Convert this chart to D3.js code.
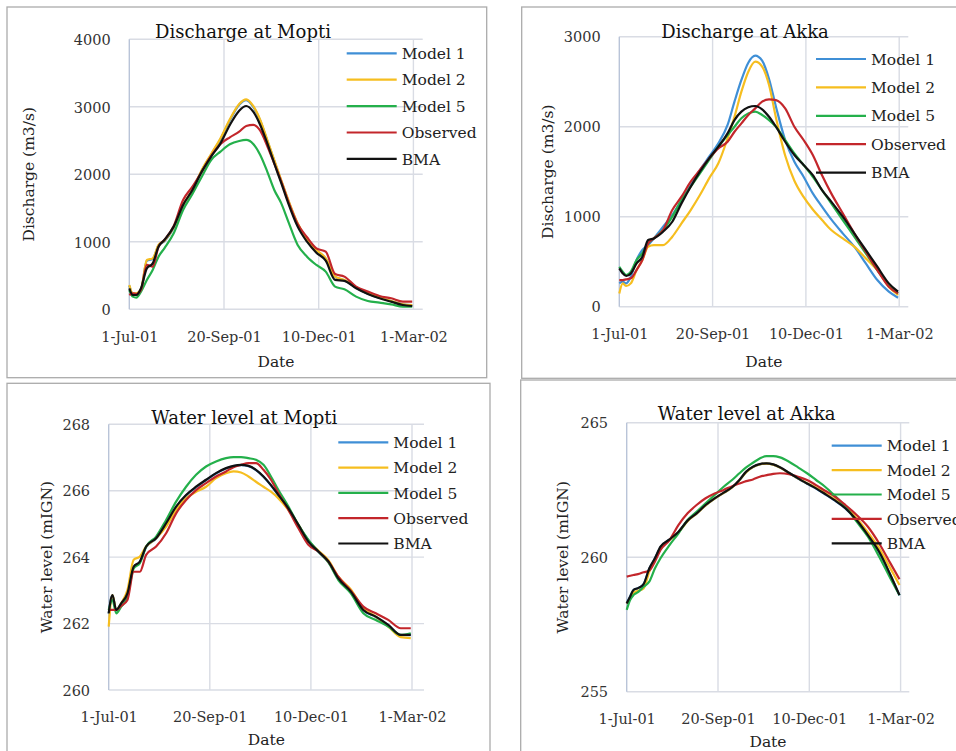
<!DOCTYPE html>
<html>
<head>
  <meta charset="UTF-8">
  <title>Discharge and water level at Mopti and Akka</title>
  <script src="https://d3js.org/d3.v7.min.js"></script>
  <style>
    body { margin: 0; background: #fff; }
    svg text { font-family: "DejaVu Serif", "Liberation Serif", serif; }
  </style>
</head>
<body>
<div id="chart"></div>
<script>
// sampled days, counted from 1-Jul-01
const days = [0, 3, 6, 10, 15, 20, 25, 30, 38, 46, 54, 62, 70, 78, 86, 94, 100, 106, 112, 118,
  124, 130, 136, 144, 152, 160, 168, 176, 184, 194, 204, 214, 224, 234, 242];

const seriesNames = ["Model 1", "Model 2", "Model 5", "Observed", "BMA"];
const seriesColors = ["#3f8fd6", "#f6be1f", "#24b04b", "#c3262b", "#111111"];
const dateTicks = ["2001-07-01", "2001-09-20", "2001-12-10", "2002-03-01"];

// Discharge at Mopti (m3/s)
const moptiQModel1 = [350, 230, 230, 290, 720, 745, 945, 1010, 1210, 1540, 1760, 2055, 2290, 2520, 2800, 3030, 3100, 3000, 2795, 2500,
  2200, 1900, 1610, 1265, 1030, 872, 750, 480, 430, 320, 232, 170, 120, 72, 62];
const moptiQModel2 = [360, 237, 237, 296, 730, 755, 953, 1017, 1215, 1546, 1768, 2064, 2301, 2533, 2815, 3042, 3111, 3012, 2805, 2510,
  2210, 1910, 1620, 1274, 1037, 879, 755, 484, 435, 326, 237, 173, 123, 74, 64];
const moptiQModel5 = [286, 188, 173, 262, 435, 583, 780, 904, 1126, 1472, 1709, 1965, 2212, 2336, 2444, 2494, 2509, 2450, 2286, 2040,
  1768, 1570, 1299, 953, 780, 657, 558, 336, 296, 188, 123, 99, 74, 40, 40];
const moptiQObserved = [212, 237, 227, 286, 657, 632, 928, 1027, 1235, 1620, 1817, 2040, 2272, 2449, 2548, 2632, 2716, 2731, 2647, 2420,
  2160, 1890, 1595, 1264, 1067, 904, 854, 523, 484, 336, 262, 198, 163, 114, 114];
const moptiQBMA = [311, 212, 212, 311, 607, 680, 928, 1027, 1225, 1546, 1768, 2040, 2262, 2459, 2731, 2943, 3012, 2928, 2731, 2460,
  2160, 1870, 1570, 1225, 1002, 839, 721, 435, 420, 311, 227, 163, 114, 64, 49];
const moptiQTicks = [0, 1000, 2000, 3000, 4000];

// Discharge at Akka (m3/s)
const akkaQModel1 = [259, 278, 259, 333, 519, 630, 685, 759, 889, 1019, 1185, 1352, 1519, 1667, 1815, 2019, 2278, 2519, 2711, 2789,
  2733, 2530, 2222, 1852, 1611, 1444, 1259, 1111, 970, 815, 667, 481, 296, 167, 100];
const akkaQModel2 = [148, 259, 230, 259, 407, 519, 667, 685, 685, 778, 926, 1074, 1241, 1426, 1593, 1870, 2111, 2389, 2611, 2722,
  2667, 2463, 2100, 1680, 1400, 1220, 1080, 963, 852, 759, 667, 537, 407, 222, 130];
const akkaQModel5 = [444, 389, 352, 389, 519, 593, 704, 759, 852, 1000, 1185, 1333, 1481, 1630, 1778, 1907, 2000, 2093, 2148, 2167,
  2130, 2074, 2000, 1852, 1704, 1574, 1444, 1296, 1148, 963, 778, 593, 407, 241, 148];
const akkaQObserved = [296, 296, 304, 315, 407, 519, 704, 759, 852, 1074, 1222, 1389, 1519, 1648, 1759, 1833, 1944, 2037, 2130, 2204,
  2278, 2304, 2296, 2204, 2000, 1852, 1685, 1460, 1259, 1037, 815, 611, 407, 222, 148];
const akkaQBMA = [426, 370, 341, 370, 481, 556, 741, 759, 833, 944, 1148, 1333, 1500, 1648, 1778, 1926, 2074, 2167, 2215, 2230,
  2193, 2111, 2000, 1833, 1685, 1574, 1463, 1296, 1167, 1000, 815, 630, 444, 259, 167];
const akkaQTicks = [0, 1000, 2000, 3000];

// Water level at Mopti (mIGN)
const moptiHModel1 = [262.30, 262.85, 262.40, 262.60, 262.90, 263.70, 263.86, 264.30, 264.56, 265.00, 265.50, 265.86, 266.10, 266.32, 266.52, 266.67, 266.74, 266.77, 266.74, 266.62,
  266.42, 266.16, 265.86, 265.46, 264.96, 264.51, 264.16, 263.86, 263.35, 262.95, 262.40, 262.20, 261.95, 261.65, 261.65];
const moptiHModel2 = [261.91, 262.86, 262.41, 262.61, 263.01, 263.92, 264.02, 264.32, 264.57, 264.92, 265.42, 265.77, 265.97, 266.12, 266.38, 266.53, 266.58, 266.55, 266.43, 266.27,
  266.12, 265.97, 265.77, 265.42, 264.97, 264.49, 264.19, 263.91, 263.41, 263.03, 262.46, 262.21, 261.91, 261.59, 261.56];
const moptiHModel5 = [262.41, 262.71, 262.31, 262.51, 262.81, 263.66, 263.82, 264.32, 264.62, 265.12, 265.67, 266.12, 266.48, 266.73, 266.88, 266.98, 267.01, 267.01, 266.98, 266.93,
  266.78, 266.43, 266.02, 265.52, 264.97, 264.52, 264.17, 263.84, 263.31, 262.91, 262.31, 262.11, 261.91, 261.66, 261.71];
const moptiHObserved = [262.41, 262.41, 262.41, 262.53, 262.71, 263.56, 263.56, 264.07, 264.32, 264.72, 265.32, 265.72, 266.02, 266.23, 266.43, 266.58, 266.71, 266.78, 266.83, 266.83,
  266.63, 266.33, 265.92, 265.42, 264.87, 264.37, 264.17, 263.87, 263.41, 262.99, 262.51, 262.31, 262.11, 261.86, 261.86];
const moptiHBMA = [262.31, 262.86, 262.41, 262.61, 262.91, 263.71, 263.87, 264.32, 264.57, 265.02, 265.52, 265.87, 266.12, 266.33, 266.53, 266.68, 266.75, 266.78, 266.75, 266.63,
  266.43, 266.17, 265.87, 265.47, 264.97, 264.47, 264.17, 263.87, 263.36, 262.96, 262.41, 262.21, 261.96, 261.66, 261.66];
const moptiHTicks = [260, 262, 264, 266, 268];

// Water level at Akka (mIGN)
const akkaHModel1 = [258.30, 258.54, 258.78, 258.85, 259.00, 259.57, 259.95, 260.38, 260.65, 260.94, 261.35, 261.62, 261.93, 262.18, 262.39, 262.61, 262.86, 263.17, 263.35, 263.45,
  263.48, 263.44, 263.33, 263.13, 262.92, 262.73, 262.55, 262.34, 262.12, 261.81, 261.37, 260.81, 260.19, 259.33, 258.58];
const akkaHModel2 = [258.28, 258.47, 258.68, 258.75, 258.84, 259.46, 259.90, 260.35, 260.64, 260.93, 261.34, 261.62, 261.93, 262.18, 262.39, 262.61, 262.86, 263.16, 263.35, 263.45,
  263.48, 263.44, 263.33, 263.13, 262.93, 262.75, 262.58, 262.38, 262.17, 261.87, 261.45, 260.92, 260.33, 259.58, 258.97];
const akkaHModel5 = [258.04, 258.41, 258.59, 258.70, 258.90, 259.09, 259.58, 259.96, 260.45, 260.89, 261.38, 261.69, 262.00, 262.31, 262.62, 262.89, 263.12, 263.34, 263.51, 263.67,
  263.76, 263.76, 263.71, 263.55, 263.34, 263.12, 262.87, 262.62, 262.31, 261.88, 261.32, 260.76, 260.02, 259.21, 258.59];
const akkaHObserved = [259.28, 259.31, 259.34, 259.37, 259.44, 259.50, 259.83, 260.27, 260.64, 261.20, 261.63, 261.94, 262.19, 262.37, 262.50, 262.65, 262.74, 262.83, 262.89, 262.99,
  263.05, 263.10, 263.12, 263.09, 262.99, 262.87, 262.68, 262.47, 262.27, 261.94, 261.57, 261.13, 260.51, 259.77, 259.18];
const akkaHBMA = [258.28, 258.53, 258.78, 258.85, 259.00, 259.58, 259.96, 260.39, 260.66, 260.95, 261.36, 261.63, 261.94, 262.19, 262.40, 262.62, 262.87, 263.18, 263.36, 263.46,
  263.49, 263.45, 263.34, 263.14, 262.93, 262.74, 262.56, 262.35, 262.13, 261.82, 261.38, 260.82, 260.20, 259.34, 258.59];
const akkaHTicks = [255, 260, 265];

const width = 956, height = 751;
const start = new Date(Date.UTC(2001, 6, 1));
const endDay = 251;
const parseDay = d3.utcParse("%Y-%m-%d");
const fmtDate = d3.utcFormat("%-d-%b-%y");

// panel layout, in page pixels
const panels = [
  { title: "Discharge at Mopti", yLabel: "Discharge (m3/s)", ticks: moptiQTicks,
    series: [moptiQModel1, moptiQModel2, moptiQModel5, moptiQObserved, moptiQBMA],
    frame: [7, 7, 486.7, 377.7],
    plot: { left: 129.3, top: 39.3, right: 422.7, bottom: 309.3, dayPx: 94.7 / 81 },
    titleXY: [243, 38.2], yLabelX: 29.3, dateY: 367.3,
    legend: { x: 346.7, y: 53.3, step: 26.4 } },
  { title: "Discharge at Akka", yLabel: "Discharge (m3/s)", ticks: akkaQTicks,
    series: [akkaQModel1, akkaQModel2, akkaQModel5, akkaQObserved, akkaQBMA],
    frame: [521.7, 7, 1000, 378.3],
    plot: { left: 619.3, top: 36.7, right: 908.3, bottom: 306.7, dayPx: 93.3 / 81 },
    titleXY: [745, 38.2], yLabelX: 548.3, dateY: 367.3,
    legend: { x: 816, y: 59, step: 28.4 } },
  { title: "Water level at Mopti", yLabel: "Water level (mIGN)", ticks: moptiHTicks,
    series: [moptiHModel1, moptiHModel2, moptiHModel5, moptiHObserved, moptiHBMA],
    frame: [7, 383.3, 490, 800],
    plot: { left: 108.7, top: 424.3, right: 424, bottom: 690, dayPx: 101.1 / 81 },
    titleXY: [244.3, 423.8], yLabelX: 46.7, dateY: 745.3,
    legend: { x: 338.3, y: 442.3, step: 25.3 } },
  { title: "Water level at Akka", yLabel: "Water level (mIGN)", ticks: akkaHTicks,
    series: [akkaHModel1, akkaHModel2, akkaHModel5, akkaHObserved, akkaHBMA],
    frame: [520.7, 380, 1000, 800],
    plot: { left: 626.7, top: 422.7, right: 909.3, bottom: 691.7, dayPx: 91.3 / 81 },
    titleXY: [746.7, 419.8], yLabelX: 563.3, dateY: 747.2,
    legend: { x: 831.7, y: 445.7, step: 24.4 } }
];

const svg = d3.select("#chart")
  .append("svg")
  .attr("width", width)
  .attr("height", height);

svg.append("rect").attr("width", width).attr("height", height).attr("fill", "#fff");

panels.forEach(function(p) {
  const f = p.frame;
  svg.append("rect")
    .attr("x", f[0]).attr("y", f[1])
    .attr("width", f[2] - f[0]).attr("height", f[3] - f[1])
    .attr("fill", "none")
    .attr("stroke", "#ababab")
    .attr("stroke-width", 1.3);

  const pl = p.plot;
  const x = d3.scaleUtc()
    .domain([start, d3.utcDay.offset(start, endDay)])
    .range([pl.left, pl.left + endDay * pl.dayPx]);
  const y = d3.scaleLinear()
    .domain(d3.extent(p.ticks))
    .range([pl.bottom, pl.top]);
  const tickDates = dateTicks.map(parseDay);

  // gridlines
  const g = svg.append("g");
  g.selectAll(".hgrid")
    .data(p.ticks)
    .enter()
    .append("line")
    .attr("x1", pl.left).attr("x2", pl.right)
    .attr("y1", d => y(d)).attr("y2", d => y(d))
    .attr("stroke", "#d9dce4")
    .attr("stroke-width", 1.4);
  g.selectAll(".vgrid")
    .data(tickDates)
    .enter()
    .append("line")
    .attr("x1", d => x(d)).attr("x2", d => x(d))
    .attr("y1", pl.top).attr("y2", pl.bottom)
    .attr("stroke", (d, i) => i === 0 ? "#b9c4d8" : "#d9dce4")
    .attr("stroke-width", 1.4);

  // axes
  const xAxis = svg.append("g")
    .attr("transform", "translate(0," + pl.bottom + ")")
    .call(d3.axisBottom(x).tickValues(tickDates).tickFormat(fmtDate).tickSize(0).tickPadding(22));
  const yAxis = svg.append("g")
    .attr("transform", "translate(" + pl.left + ",0)")
    .call(d3.axisLeft(y).tickValues(p.ticks).tickFormat(d3.format("d")).tickSize(0).tickPadding(18.6));
  [xAxis, yAxis].forEach(function(a) {
    a.select(".domain").remove();
    a.selectAll("text")
      .style("font-family", "'DejaVu Serif', serif")
      .style("font-size", "14.5px")
      .attr("fill", "#333");
  });
  yAxis.selectAll("text").attr("dy", "0.36em");

  // lines
  const line = d3.line()
    .x((d, i) => x(d3.utcDay.offset(start, days[i])))
    .y(d => y(d))
    .curve(d3.curveMonotoneX);
  p.series.forEach(function(vals, k) {
    svg.append("path")
      .datum(vals)
      .attr("fill", "none")
      .attr("stroke", seriesColors[k])
      .attr("stroke-width", 2.2)
      .attr("stroke-linejoin", "round")
      .attr("d", line);
  });

  // titles
  svg.append("text")
    .attr("x", p.titleXY[0]).attr("y", p.titleXY[1])
    .attr("text-anchor", "middle")
    .style("font-size", "18px")
    .attr("fill", "#111")
    .text(p.title);
  svg.append("text")
    .attr("transform", "translate(" + p.yLabelX + "," + ((pl.top + pl.bottom) / 2) + ") rotate(-90)")
    .attr("dy", "0.32em")
    .attr("text-anchor", "middle")
    .style("font-size", "15.5px")
    .attr("fill", "#222")
    .text(p.yLabel);
  svg.append("text")
    .attr("x", (pl.left + pl.right) / 2).attr("y", p.dateY)
    .attr("text-anchor", "middle")
    .style("font-size", "15.5px")
    .attr("fill", "#222")
    .text("Date");

  // legend
  const lg = svg.append("g");
  seriesNames.forEach(function(name, k) {
    const ly = p.legend.y + k * p.legend.step;
    lg.append("line")
      .attr("x1", p.legend.x).attr("x2", p.legend.x + 50)
      .attr("y1", ly).attr("y2", ly)
      .attr("stroke", seriesColors[k])
      .attr("stroke-width", 2.2);
    lg.append("text")
      .attr("x", p.legend.x + 55).attr("y", ly + 5.6)
      .style("font-size", "15.5px")
      .attr("fill", "#222")
      .text(name);
  });
});
</script>
</body>
</html>
